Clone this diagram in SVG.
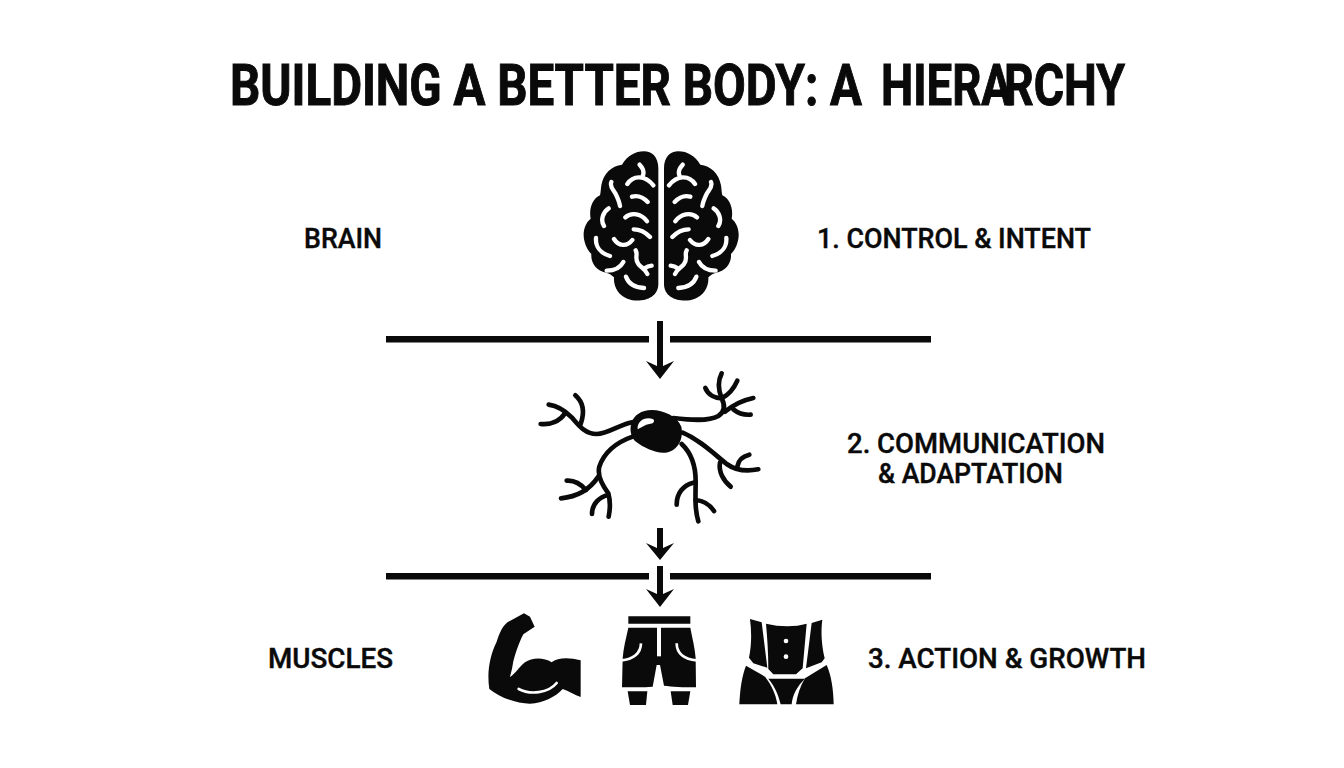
<svg xmlns="http://www.w3.org/2000/svg" xmlns:xlink="http://www.w3.org/1999/xlink" width="1344" height="768" viewBox="0 0 1344 768">
<style>
text{font-family:Roboto,"Liberation Sans",sans-serif;fill:#0a0a0a;font-weight:700}
.t{font-size:57px;stroke:#0a0a0a;stroke-width:1px}
.l{font-size:27.5px;font-weight:500;stroke:#0a0a0a;stroke-width:.4px}
.s{fill:none;stroke:#0a0a0a;stroke-linecap:round;stroke-linejoin:round}
.w{fill:none;stroke:#fff;stroke-linecap:round;stroke-linejoin:round;stroke-width:13}
.k{fill:#0a0a0a}
</style>
<defs>
<g id="hemi">
<path class="k" d="M265 85C265 50 245 34 222 34C195 34 172 48 156 74C125 78 100 100 94 136C92 150 92 160 90 166C68 176 56 205 62 236C44 250 36 280 44 306C48 322 56 334 64 342C62 370 80 392 108 398C118 400 126 406 132 412C130 440 146 466 172 476C205 490 265 480 265 432Z"/>
<path class="w" d="M209 74C222 88 222 100 218 108M172 132C190 105 225 105 250 136M124 126C118 140 130 150 136 160C142 172 148 186 150 198M186 170C205 165 220 172 233 186M116 205C100 215 90 240 102 258M166 232C185 215 215 222 231 244M191 268C210 268 225 275 240 291M78 294C76 320 92 340 120 348M132 297C145 318 170 322 187 300M197 331C205 345 192 355 205 372C212 382 225 385 232 402M245 377C235 378 228 382 222 386M110 392C130 392 150 385 160 366M168 410C175 430 195 442 222 444"/>
</g>
</defs>
<rect width="1344" height="768" fill="#fff"/>
<g id="title">
<text class="t" y="105"><tspan x="230" textLength="632" lengthAdjust="spacingAndGlyphs">BUILDING A BETTER BODY: A</tspan> <tspan x="881" textLength="131" lengthAdjust="spacingAndGlyphs">HIERA</tspan><tspan x="1004" textLength="121" lengthAdjust="spacingAndGlyphs">RCHY</tspan></text>
</g>
<g id="node-brain-label"><text class="l" x="304" y="248" textLength="78" lengthAdjust="spacingAndGlyphs">BRAIN</text></g>
<g id="node-brain-icon" transform="translate(570 140) scale(.33333)">
<use xlink:href="#hemi" href="#hemi"/>
<use xlink:href="#hemi" href="#hemi" transform="translate(547 0) scale(-1 1)"/>
</g>
<g id="node-level-1"><text class="l" x="817" y="248" textLength="274" lengthAdjust="spacingAndGlyphs">1. CONTROL &amp; INTENT</text></g>
<g id="node-neuron-icon" transform="translate(530 310) scale(.33333)">
<path class="k" d="M304 340C310 316 335 300 365 300C402 300 442 320 454 350C462 388 442 424 405 428C375 430 340 412 320 397C303 386 298 360 304 340Z"/>
<path d="M323 358C320 335 345 318 370 328C376 336 368 342 358 342C345 344 335 352 323 358Z" fill="#fff"/>
<g class="s" stroke-width="14">
<path d="M310 336C270 342 235 372 200 372C165 372 145 345 125 322C105 302 85 288 56 284"/>
<path d="M32 342C60 345 88 335 105 310"/>
<path d="M136 256C158 275 165 305 152 342"/>
<path d="M430 324C480 330 535 335 565 318C585 305 585 285 575 265C555 265 535 255 526 234"/>
<path d="M575 190C562 215 565 240 575 265C595 255 612 235 622 212"/>
<path d="M585 305C610 285 640 270 670 264"/>
<path d="M610 298C625 310 640 316 662 314"/>
<path d="M308 380C265 395 225 420 208 470C200 500 220 530 235 550C242 575 240 600 236 620"/>
<path d="M205 500C185 530 150 560 93 565"/>
<path d="M110 512C135 510 155 525 168 540"/>
<path d="M235 555C210 560 186 580 186 612"/>
<path d="M455 402C485 430 498 470 497 520C496 570 495 600 505 634"/>
<path d="M490 518C460 525 440 550 440 584"/>
<path d="M497 570C520 572 540 585 552 603"/>
<path d="M458 368C510 390 550 430 590 462C615 480 650 485 685 478"/>
<path d="M570 458C565 485 580 512 602 530"/>
<path d="M622 470C625 450 640 438 658 434"/>
</g>
</g>
<g id="node-level-2">
<text class="l"><tspan x="847" y="453" textLength="258" lengthAdjust="spacingAndGlyphs">2. COMMUNICATION</tspan><tspan x="878" y="482.5" textLength="185" lengthAdjust="spacingAndGlyphs">&amp; ADAPTATION</tspan></text>
</g>
<g id="node-muscles-label"><text class="l" x="268" y="668" textLength="125" lengthAdjust="spacingAndGlyphs">MUSCLES</text></g>
<g id="node-arm-icon" transform="translate(480 525) scale(.33333)">
<path class="k" d="M132 265L150 275L164 305L130 328C118 350 102 395 98 420C96 435 92 445 90 456C105 448 118 425 135 412C155 398 190 396 215 412C232 398 265 396 302 406L302 516C285 510 265 498 248 492C228 515 190 534 150 536C110 536 60 518 28 492C20 440 30 390 50 350C60 320 70 295 95 285Z"/>
<path class="w" d="M116 492C150 510 205 505 230 474" style="stroke-width:8"/>
</g>
<g id="node-shorts-icon" transform="translate(480 525) scale(.33333)">
<path class="k" d="M445 274H631V296H445Z"/>
<path class="k" d="M445 308H631C637 340 645 370 647 400L648 487C610 487 575 485 552 482L540 420H530L518 485C490 487 455 487 426 487L428 400C430 370 438 340 445 308Z"/>
<path d="M537 306V394" stroke="#fff" stroke-width="12" fill="none"/>
<path class="w" style="stroke-width:8;stroke-linecap:butt" d="M483 355C482 385 460 404 424 406M590 355C590 385 612 404 650 406"/>
<path class="k" d="M443 499H502L498 540H450Z"/>
<path class="k" d="M572 499H631L624 540H578Z"/>
</g>
<g id="node-torso-icon" transform="translate(480 525) scale(.33333)">
<path class="k" d="M810 282L845 292L862 428L820 415L807 398C815 360 815 320 810 282Z"/>
<path class="k" d="M1027 284L995 294L978 430L1025 412L1034 400C1025 360 1022 320 1027 284Z"/>
<path class="k" d="M858 296C900 306 945 306 980 296L968 430L948 448H880L865 432C865 385 862 340 858 296Z"/>
<path class="k" d="M798 422L855 455C875 480 888 510 892 538H778C780 495 785 455 798 422Z"/>
<path class="k" d="M1040 420L975 460C960 485 952 510 948 538H1061C1060 495 1055 455 1040 420Z"/>
<path class="k" d="M865 461H975C950 485 938 510 935 538H902C895 510 885 485 865 461Z"/>
<circle cx="918" cy="348" r="7" fill="#fff"/><circle cx="918" cy="395" r="7" fill="#fff"/>
</g>
<g id="node-level-3"><text class="l" x="868" y="668" textLength="278" lengthAdjust="spacingAndGlyphs">3. ACTION &amp; GROWTH</text></g>
<g id="connectors" fill="#0a0a0a">
<rect x="386" y="336" width="263" height="6.5"/>
<rect x="670" y="336" width="261" height="6.5"/>
<rect x="386" y="573" width="263" height="6.5"/>
<rect x="670" y="573" width="261" height="6.5"/>
<path d="M657 321H663V366L674 361L660 379L646 361L657 366Z"/>
<path d="M657 528H663V548L674 543L660 560L646 543L657 548Z"/>
<path d="M657 566H663V594L674 589L660 607L646 589L657 594Z"/>
</g>
</svg>
